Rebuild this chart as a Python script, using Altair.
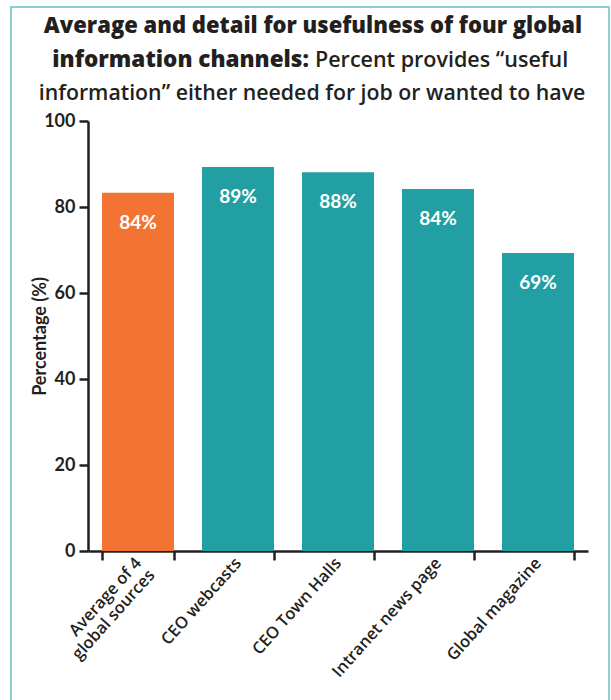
import altair as alt
import pandas as pd

# ---- data ----
categories = ["Average of 4\nglobal sources", "CEO webcasts", "CEO Town Halls",
              "Intranet news page", "Global magazine"]
values = [83.3, 89.3, 88.1, 84.2, 69.3]
value_labels = ["84%", "89%", "88%", "84%", "69%"]
bar_colors = ["#F37432", "#229FA2", "#229FA2", "#229FA2", "#229FA2"]
y_ticks = [0, 20, 40, 60, 80, 100]

title_line1 = "Average and detail for usefulness of four global"
title_line2_bold = "information channels:"
title_line2_rest = "Percent provides \u201cuseful"
title_line3 = "information\u201d either needed for job or wanted to have"

FONT = "Lato"
TFONT = "Open Sans"
INK = "#231F20"

df = pd.DataFrame({"category": categories, "value": values,
                   "label": value_labels, "color": bar_colors})

base = alt.Chart(df)

bars = base.mark_bar().encode(
    x=alt.X("category:N", sort=categories, title=None,
            scale=alt.Scale(paddingInner=0.28, paddingOuter=0.14),
            axis=alt.Axis(labelAngle=-48, labelAlign="right", labelBaseline="middle",
                          labelExpr="split(datum.label, '\\n')",
                          labelFont=TFONT, labelFontSize=16.5, labelFontWeight=600,
                          labelColor=INK, labelPadding=0, labelLineHeight=18,
                          tickBand="extent", tickSize=9, tickWidth=2.5, tickColor=INK,
                          domainWidth=2.5, domainColor=INK)),
    y=alt.Y("value:Q", title="Percentage (%)",
            scale=alt.Scale(domain=[0, 100], nice=False),
            axis=alt.Axis(values=y_ticks, grid=False, labelFont=FONT, labelFontSize=18,
                          labelFontWeight="bold", labelColor=INK, labelPadding=4,
                          tickSize=9, tickWidth=2.5, tickColor=INK,
                          domainWidth=2.5, domainColor=INK,
                          titleFont=FONT, titleFontSize=18, titleFontWeight="bold",
                          titleColor=INK, titleX=-48, titleBaseline="middle")),
    color=alt.Color("color:N", scale=None),
)

texts = base.mark_text(color="white", font=FONT, fontSize=19, fontWeight="bold",
                       baseline="middle", dy=30).encode(
    x=alt.X("category:N", sort=categories),
    y=alt.Y("value:Q"),
    text="label:N",
)

one = pd.DataFrame({"a": [0]})

border = alt.Chart(one).mark_rect(fill=None, stroke="#8CCFD1", strokeWidth=2).encode(
    x=alt.value(-77), x2=alt.value(521), y=alt.value(-114), y2=alt.value(640))

def title_text(txt, x, y, align, weight, size):
    return alt.Chart(pd.DataFrame({"t": [txt]})).mark_text(
        font=TFONT, fontSize=size, fontWeight=weight, color=INK,
        align=align, baseline="alphabetic").encode(
        x=alt.value(x), y=alt.value(y), text="t:N")

t1 = title_text(title_line1, 225, -88, "center", 800, 22)
t2a = title_text(title_line2_bold, 221, -54, "right", 800, 22.5)
t2b = title_text(title_line2_rest, 227, -54, "left", 600, 21.5)
t3 = title_text(title_line3, 224, -21, "center", 600, 21.3)

chart = alt.layer(border, bars, texts, t1, t2a, t2b, t3).properties(
    width=500, height=430,
    autosize=alt.AutoSizeParams(type="none"),
    padding={"left": 88, "top": 121, "right": 23, "bottom": 149},
    background="white",
).configure_view(stroke=None)

chart.save("out.html", embed_options={"renderer": "svg", "actions": False})
